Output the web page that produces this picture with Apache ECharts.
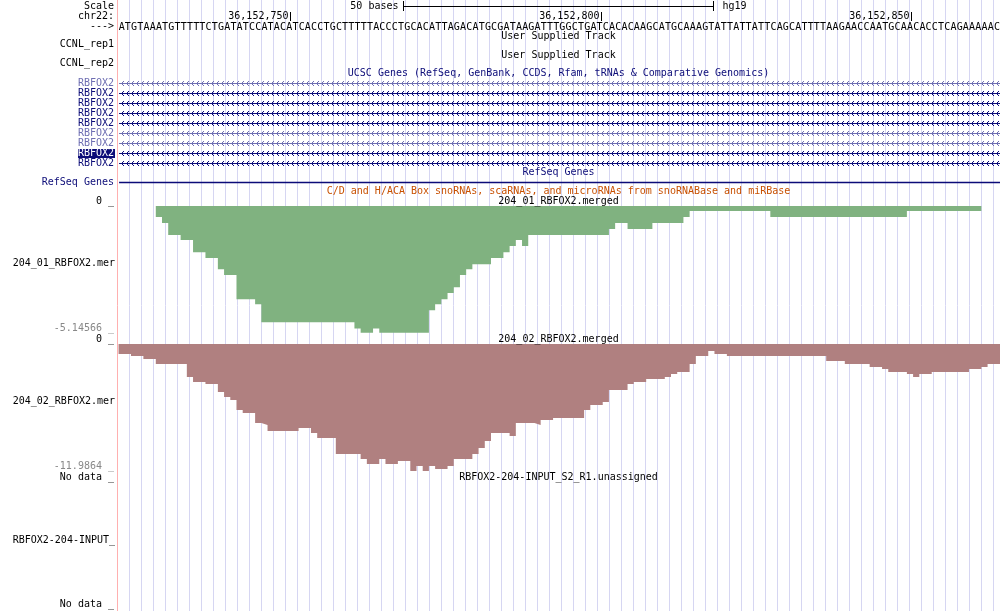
<!DOCTYPE html>
<html><head><meta charset="utf-8">
<script src="https://cdn.jsdelivr.net/npm/echarts@6/dist/echarts.min.js"></script>
<style>html,body{margin:0;padding:0;background:#fff}#c{width:1000px;height:611px}</style>
</head><body><div id="c"></div>
<script>
// ---------------- data ----------------
const sequence = 'ATGTAAATGTTTTTCTGATATCCATACATCACCTGCTTTTTACCC' +
  'TGCACATTAGACATGCGATAAGATTTGGCTGATCACACAAGCATGCAAAGTATTATTATTCAGCATTTTAAGAACCAATGCAACACCTCAGAAAAAC';
const seqLetters = sequence.split('');
const chromLabel = 'chr22:';
const positionTickLabels = ['36,152,750', '36,152,800', '36,152,850'];
const positionTickBases = [28, 78, 128];
const scaleBarBases = [46, 96];
const scaleBarLabel = '50 bases';
const assemblyName = 'hg19';
const geneNames = ['RBFOX2','RBFOX2','RBFOX2','RBFOX2','RBFOX2','RBFOX2','RBFOX2','RBFOX2','RBFOX2'];
const geneShades = ['light','dark','dark','dark','dark','light','light','highlight','dark'];
const geneSpan = [0, 142];
const refseqLabel = 'RefSeq Genes';

const track1Name = '204_01_RBFOX2.merged';
const track1AxisLabels = ['0', '-5.14566'];
const track1Min = -5.14566;
const track1Values = [
  null,null,null,null,null,null,-0.45,-0.69,-1.18,-1.18,
  -1.38,-1.38,-1.87,-1.87,-2.11,-2.11,-2.56,-2.80,-2.80,-3.78,
  -3.78,-3.78,-3.98,-4.71,-4.71,-4.71,-4.71,-4.71,-4.71,-4.71,
  -4.71,-4.71,-4.71,-4.71,-4.71,-4.71,-4.71,-4.71,-4.96,-5.14,
  -5.14,-4.96,-5.14,-5.14,-5.14,-5.14,-5.14,-5.14,-5.14,-5.14,
  -4.22,-3.98,-3.78,-3.53,-3.29,-2.80,-2.56,-2.36,-2.36,-2.36,
  -2.11,-2.11,-1.87,-1.62,-1.38,-1.62,-1.18,-1.18,-1.18,-1.18,
  -1.18,-1.18,-1.18,-1.18,-1.18,-1.18,-1.18,-1.18,-1.18,-0.93,
  -0.69,-0.69,-0.93,-0.93,-0.93,-0.93,-0.69,-0.69,-0.69,-0.69,
  -0.69,-0.45,-0.20,-0.20,-0.20,-0.20,-0.20,-0.20,-0.20,-0.20,
  -0.20,-0.20,-0.20,-0.20,-0.20,-0.45,-0.45,-0.45,-0.45,-0.45,
  -0.45,-0.45,-0.45,-0.45,-0.45,-0.45,-0.45,-0.45,-0.45,-0.45,
  -0.45,-0.45,-0.45,-0.45,-0.45,-0.45,-0.45,-0.20,-0.20,-0.20,
  -0.20,-0.20,-0.20,-0.20,-0.20,-0.20,-0.20,-0.20,-0.20,null,
  null,null
];

const track2Name = '204_02_RBFOX2.merged';
const track2AxisLabels = ['0', '-11.9864'];
const track2Min = -11.9864;
const track2Values = [
  -0.94,-0.94,-1.13,-1.13,-1.42,-1.42,-1.89,-1.89,-1.89,-1.89,
  -1.89,-3.11,-3.59,-3.59,-3.78,-3.78,-4.53,-5.00,-5.29,-6.23,
  -6.51,-6.51,-7.46,-7.64,-8.21,-8.21,-8.21,-8.21,-8.21,-7.93,
  -7.93,-8.40,-8.87,-8.87,-8.87,-10.38,-10.38,-10.38,-10.38,-10.85,
  -11.33,-11.33,-10.85,-11.33,-11.33,-11.04,-11.04,-11.98,-11.51,-11.98,
  -11.51,-11.80,-11.80,-11.51,-10.85,-10.85,-10.85,-10.38,-9.82,-9.15,
  -8.40,-8.40,-8.40,-8.68,-7.46,-7.46,-7.46,-7.64,-7.17,-7.17,
  -6.98,-6.98,-6.98,-6.98,-6.98,-6.23,-5.76,-5.76,-5.47,-4.34,
  -4.34,-4.34,-3.78,-3.59,-3.59,-3.30,-3.30,-3.30,-3.11,-2.83,
  -2.64,-2.64,-1.89,-1.13,-1.13,-0.66,-0.94,-0.94,-1.13,-1.13,
  -1.13,-1.13,-1.13,-1.13,-1.13,-1.13,-1.13,-1.13,-1.13,-1.13,
  -1.13,-1.13,-1.13,-1.13,-1.60,-1.60,-1.60,-1.89,-1.89,-1.89,
  -1.89,-2.17,-2.17,-2.36,-2.64,-2.64,-2.64,-2.83,-3.11,-2.83,
  -2.83,-2.64,-2.64,-2.64,-2.64,-2.64,-2.64,-2.36,-2.36,-2.17,
  -1.89,-1.89
];

const track3Name = 'RBFOX2-204-INPUT_S2_R1.unassigned';
const track3AxisLabels = ['No data', 'No data'];

// ---------------- style ----------------
const FONT = '"DejaVu Sans Mono", "Liberation Mono", monospace';
const F10 = '10px ' + FONT;
const NAVY = '#0c0c78';
const LIGHT = '#6e6eb2';
const GREEN = '#80b280';
const MAUVE = '#b08080';
const GRIDC = '#d6d6f2';
const PINK = '#ffb0b0';
const ORANGE = '#c85000';
const N = seqLetters.length;

function stepPoints(vals) {
  const pts = [];
  for (let i = 0; i < vals.length; i++) {
    const v = vals[i];
    if (v == null) {
      if (i > 0 && vals[i - 1] != null) { pts.push([i, vals[i - 1]]); pts.push([i, null]); }
      continue;
    }
    pts.push([i, v]);
  }
  if (vals[vals.length - 1] != null) pts.push([vals.length, vals[vals.length - 1]]);
  return pts;
}

function T(text, x, y, align, fill, extra) {
  return {
    type: 'text', x: x, y: y, silent: true, z: 50,
    style: Object.assign({ text: text, font: F10, fill: fill || '#000', align: align, verticalAlign: 'middle' }, extra || {})
  };
}
const CX = 558.5;

const baseAxis = (gi) => ({ type: 'value', gridIndex: gi, min: -0.25, max: N, show: false });

const trackYAxis = (gi, min, labels, colorFn) => ({
  type: 'value', gridIndex: gi, min: min, max: min === 0 ? 1 : 0,
  interval: min === 0 ? 1 : -min,
  axisLine: { show: false }, axisTick: { show: false }, splitLine: { show: false },
  axisLabel: {
    show: true, margin: 3, fontFamily: FONT, fontSize: 10, lineHeight: 9,
    verticalAlign: 'bottom', showMinLabel: true, showMaxLabel: true,
    formatter: (v, idx) => (min === 0 ? labels[idx] : (parseFloat(v) === 0 ? labels[0] : labels[1])) + ' _',
    color: colorFn
  }
});

const option = {
  animation: false,
  backgroundColor: '#fff',
  grid: [
    { left: 117, top: 0, width: 883, height: 611 },
    { left: 117, top: 206, width: 883, height: 127 },
    { left: 117, top: 344, width: 883, height: 127 },
    { left: 117, top: 482, width: 883, height: 127 }
  ],
  xAxis: [
    { type: 'value', gridIndex: 0, min: 0, max: 883, interval: 12,
      axisLine: { show: false }, axisTick: { show: false }, axisLabel: { show: false },
      splitLine: { show: true, showMinLine: false, showMaxLine: false, lineStyle: { color: GRIDC, width: 1 } } },
    baseAxis(0), baseAxis(1), baseAxis(2), baseAxis(3)
  ],
  yAxis: [
    { type: 'value', gridIndex: 0, min: 0, max: 611, inverse: true, offset: 1,
      axisLine: { show: true, lineStyle: { color: PINK, width: 1 } },
      axisTick: { show: false }, axisLabel: { show: false }, splitLine: { show: false } },
    trackYAxis(1, track1Min, track1AxisLabels, (v) => parseFloat(v) === 0 ? '#000' : '#888'),
    trackYAxis(2, track2Min, track2AxisLabels, (v) => parseFloat(v) === 0 ? '#000' : '#888'),
    trackYAxis(3, 0, track3AxisLabels, () => '#000')
  ],
  series: [
    { type: 'line', name: track1Name, xAxisIndex: 2, yAxisIndex: 1, step: 'end',
      data: stepPoints(track1Values), symbol: 'none', connectNulls: false, silent: true,
      lineStyle: { width: 0, opacity: 0 }, areaStyle: { color: GREEN, opacity: 1 } },
    { type: 'line', name: track2Name, xAxisIndex: 3, yAxisIndex: 2, step: 'end',
      data: stepPoints(track2Values), symbol: 'none', connectNulls: false, silent: true,
      lineStyle: { width: 0, opacity: 0 }, areaStyle: { color: MAUVE, opacity: 1 } },
    // sequence letters
    { type: 'custom', xAxisIndex: 1, yAxisIndex: 0, silent: true,
      data: seqLetters.map((c, i) => [i]),
      renderItem: (params, api) => {
        const p = api.coord([api.value(0) + 0.5, 27]);
        return { type: 'text', x: p[0], y: p[1],
          style: { text: seqLetters[params.dataIndex], font: F10, fill: '#000', align: 'center', verticalAlign: 'middle' } };
      } },
    // scale bar
    { type: 'custom', xAxisIndex: 1, yAxisIndex: 0, silent: true,
      data: [[scaleBarBases[0], scaleBarBases[1]]],
      renderItem: (params, api) => {
        const xa = Math.round(api.coord([api.value(0), 6])[0]) - 0.5;
        const xb = Math.round(api.coord([api.value(1), 6])[0]) - 0.5;
        return { type: 'group', children: [
          { type: 'path', shape: { pathData: `M${xa} 1 L${xa} 11 M${xa} 6.5 L${xb} 6.5 M${xb} 1 L${xb} 11` },
            style: { stroke: '#000', fill: 'none', lineWidth: 1 } },
          { type: 'text', x: xa - 5, y: 6.5, style: { text: scaleBarLabel, font: F10, fill: '#000', align: 'right', verticalAlign: 'middle' } },
          { type: 'text', x: xb + 9, y: 6.5, style: { text: assemblyName, font: F10, fill: '#000', align: 'left', verticalAlign: 'middle' } }
        ] };
      } },
    // position ticks
    { type: 'custom', xAxisIndex: 1, yAxisIndex: 0, silent: true,
      data: positionTickBases.map(b => [b]),
      renderItem: (params, api) => {
        const x = Math.round(api.coord([api.value(0), 16])[0]) - 1.5;
        return { type: 'group', children: [
          { type: 'path', shape: { pathData: `M${x} 12 L${x} 21` }, style: { stroke: '#000', fill: 'none', lineWidth: 1 } },
          { type: 'text', x: x - 2, y: 16.7, style: { text: positionTickLabels[params.dataIndex], font: F10, fill: '#000', align: 'right', verticalAlign: 'middle' } }
        ] };
      } },
    // gene rows
    { type: 'custom', xAxisIndex: 1, yAxisIndex: 0, silent: true,
      data: geneNames.map((n, i) => [geneSpan[0], geneSpan[1]]),
      renderItem: (params, api) => {
        const i = params.dataIndex;
        const y = 83 + 10 * i;
        const x1 = api.coord([api.value(0), y])[0] + 0.5;
        const x2 = api.coord([api.value(1), y])[0];
        const left = api.coord([-0.25, y])[0];
        const shade = geneShades[i];
        const col = shade === 'light' ? LIGHT : NAVY;
        let d = `M${x1} ${y + 0.5} L${x2} ${y + 0.5}`;
        for (let x = Math.floor(x1) + 2.5; x < x2 - 3; x += 5) {
          d += ` M${x + 2.5} ${y - 2} L${x} ${y + 0.5} L${x + 2.5} ${y + 3}`;
        }
        const children = [{ type: 'path', shape: { pathData: d }, style: { stroke: col, fill: 'none', lineWidth: 1 } }];
        if (shade === 'highlight') {
          children.push({ type: 'rect', shape: { x: left - 39, y: y - 4, width: 37, height: 9 }, style: { fill: NAVY } });
        }
        children.push({ type: 'text', x: left - 3, y: y + 0.5,
          style: { text: geneNames[i], font: F10, fill: shade === 'highlight' ? '#fff' : col, align: 'right', verticalAlign: 'middle' } });
        return { type: 'group', children: children };
      } },
    // refseq row
    { type: 'custom', xAxisIndex: 1, yAxisIndex: 0, silent: true,
      data: [[geneSpan[0], geneSpan[1]]],
      renderItem: (params, api) => {
        const y = 182;
        const x1 = api.coord([api.value(0), y])[0] + 0.5;
        const x2 = api.coord([api.value(1), y])[0];
        const left = api.coord([-0.25, y])[0];
        return { type: 'group', children: [
          { type: 'path', shape: { pathData: `M${x1} ${y + 0.5} L${x2} ${y + 0.5}` }, style: { stroke: NAVY, fill: 'none', lineWidth: 1.3 } },
          { type: 'text', x: left - 3, y: y, style: { text: refseqLabel, font: F10, fill: NAVY, align: 'right', verticalAlign: 'middle' } }
        ] };
      } }
  ],
  graphic: { elements: [
    T('Scale', 114, 6.5, 'right'),
    T(chromLabel, 114, 16.7, 'right'),
    T('--->', 114, 26.7, 'right'),
    T('User Supplied Track', CX, 36, 'center'),
    T('CCNL_rep1', 114, 44.8, 'right'),
    T('User Supplied Track', CX, 55, 'center'),
    T('CCNL_rep2', 114, 63.8, 'right'),
    T('UCSC Genes (RefSeq, GenBank, CCDS, Rfam, tRNAs & Comparative Genomics)', CX, 73.5, 'center', NAVY),
    T('RefSeq Genes', CX, 172.5, 'center', NAVY),
    T('C/D and H/ACA Box snoRNAs, scaRNAs, and microRNAs from snoRNABase and miRBase', CX, 191, 'center', ORANGE),
    T(track1Name, CX, 201, 'center'),
    T(track1Name, 12.7, 263.5, 'left', '#000', { width: 104, overflow: 'truncate', ellipsis: '' }),
    T(track2Name, CX, 339.5, 'center'),
    T(track2Name, 12.7, 401, 'left', '#000', { width: 104, overflow: 'truncate', ellipsis: '' }),
    T(track3Name, CX, 477, 'center'),
    T(track3Name, 12.7, 540, 'left', '#000', { width: 104, overflow: 'truncate', ellipsis: '' })
  ] }
};

const chart = echarts.init(document.getElementById('c'), null, { renderer: 'canvas' });
chart.setOption(option);
</script>
</body></html>
